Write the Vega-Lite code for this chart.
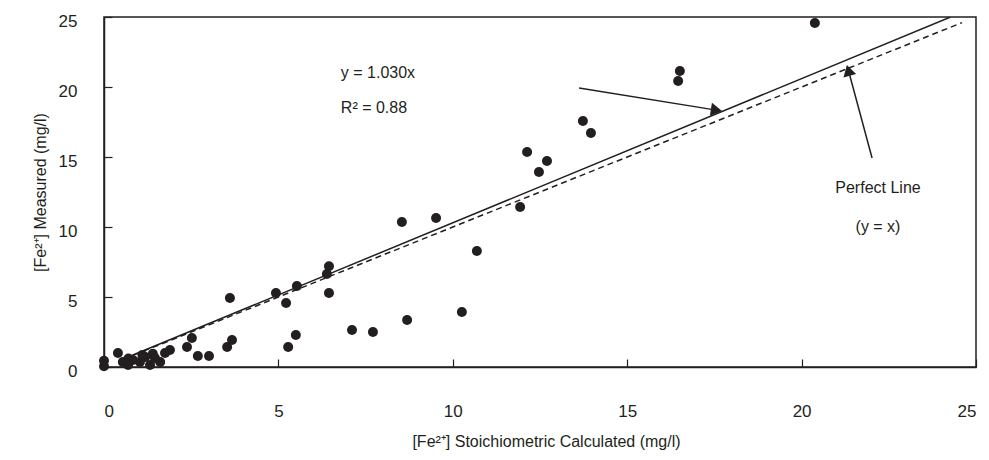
{
  "$schema": "https://vega.github.io/schema/vega-lite/v6.json",
  "width": 872,
  "height": 350,
  "autosize": {"type": "none"},
  "padding": {"left": 104, "top": 17, "right": 13, "bottom": 93},
  "background": "white",
  "config": {
    "view": {"stroke": "#231f20", "strokeWidth": 1.5},
    "font": "Liberation Sans",
    "axis": {
      "grid": false,
      "domainColor": "#231f20",
      "domainWidth": 1.5,
      "tickColor": "#231f20",
      "tickWidth": 1.2,
      "tickSize": -8,
      "labelFont": "Liberation Sans",
      "labelFontSize": 17,
      "labelColor": "#231f20",
      "titleFont": "Liberation Sans",
      "titleFontSize": 16,
      "titleFontWeight": "normal",
      "titleColor": "#231f20"
    }
  },
  "encoding": {
    "x": {
      "field": "x",
      "type": "quantitative",
      "scale": {"domain": [0, 25], "nice": false, "zero": false},
      "axis": {
        "title": "[Fe²⁺] Stoichiometric Calculated (mg/l)",
        "values": [0, 5, 10, 15, 20, 25],
        "labelPadding": 44,
        "titleX": 442,
        "titleY": 74,
        "titleAlign": "center",
        "titleBaseline": "middle"
      }
    },
    "y": {
      "field": "y",
      "type": "quantitative",
      "scale": {"domain": [0, 25], "nice": false, "zero": false},
      "axis": {
        "title": "[Fe²⁺] Measured (mg/l)",
        "values": [0, 5, 10, 15, 20, 25],
        "labelPadding": 35,
        "labelOffset": 4,
        "titleX": -64,
        "titleY": 175,
        "titleAlign": "center",
        "titleBaseline": "middle"
      }
    }
  },
  "layer": [
    {
      "data": {"values": [{"x": 0.6, "y": 0.6}, {"x": 24.6, "y": 24.6}]},
      "mark": {"type": "line", "color": "#231f20", "strokeWidth": 1.5, "strokeDash": [6, 4], "clip": true}
    },
    {
      "data": {"values": [{"x": 0.5, "y": 0.515}, {"x": 24.27, "y": 25}]},
      "mark": {"type": "line", "color": "#231f20", "strokeWidth": 1.5, "clip": true}
    },
    {
      "data": {"values": [
        {"x": 13.62, "y": 19.93, "x2": 17.6, "y2": 18.33},
        {"x": 22.02, "y": 14.93, "x2": 21.33, "y2": 21.3}
      ]},
      "mark": {"type": "rule", "color": "#231f20", "strokeWidth": 1.5},
      "encoding": {
        "x2": {"field": "x2"},
        "y2": {"field": "y2"}
      }
    },
    {
      "data": {"values": [{"x": 17.56, "y": 18.35}]},
      "mark": {"type": "point", "shape": "triangle-right", "filled": true, "color": "#231f20", "opacity": 1, "size": 170, "angle": 9}
    },
    {
      "data": {"values": [{"x": 21.34, "y": 21.19}]},
      "mark": {"type": "point", "shape": "triangle-up", "filled": true, "color": "#231f20", "opacity": 1, "size": 170, "angle": -15}
    },
    {
      "data": {"values": [
        {"x": 0, "y": 0.05}, {"x": 0, "y": 0.45}, {"x": 0.4, "y": 1.0}, {"x": 0.54, "y": 0.36},
        {"x": 0.69, "y": 0.14}, {"x": 0.7, "y": 0.6}, {"x": 0.83, "y": 0.5}, {"x": 1.03, "y": 0.36},
        {"x": 1.1, "y": 0.85}, {"x": 1.18, "y": 0.71}, {"x": 1.32, "y": 0.14}, {"x": 1.4, "y": 0.95},
        {"x": 1.46, "y": 0.64}, {"x": 1.61, "y": 0.36}, {"x": 1.75, "y": 1.0}, {"x": 1.89, "y": 1.21},
        {"x": 2.38, "y": 1.43}, {"x": 2.52, "y": 2.07}, {"x": 2.69, "y": 0.79}, {"x": 3.01, "y": 0.79},
        {"x": 3.53, "y": 1.43}, {"x": 3.67, "y": 1.93}, {"x": 3.61, "y": 4.93}, {"x": 4.93, "y": 5.29},
        {"x": 5.22, "y": 4.57}, {"x": 5.53, "y": 5.79}, {"x": 5.28, "y": 1.43}, {"x": 5.5, "y": 2.29},
        {"x": 6.45, "y": 7.2}, {"x": 6.39, "y": 6.64}, {"x": 6.45, "y": 5.29}, {"x": 7.11, "y": 2.64},
        {"x": 7.71, "y": 2.5}, {"x": 8.69, "y": 3.36}, {"x": 8.54, "y": 10.36}, {"x": 9.52, "y": 10.64},
        {"x": 10.69, "y": 8.29}, {"x": 10.26, "y": 3.93}, {"x": 11.93, "y": 11.43}, {"x": 12.13, "y": 15.36},
        {"x": 12.47, "y": 13.93}, {"x": 12.7, "y": 14.71}, {"x": 13.73, "y": 17.57}, {"x": 13.96, "y": 16.71},
        {"x": 16.46, "y": 20.43}, {"x": 16.51, "y": 21.14}, {"x": 20.38, "y": 24.57}
      ]},
      "mark": {"type": "circle", "color": "#231f20", "opacity": 1, "size": 100, "clip": false}
    },
    {
      "data": {"values": [
        {"x": 6.79, "y": 21.0, "label": "y = 1.030x"},
        {"x": 6.79, "y": 18.5, "label": "R² = 0.88"}
      ]},
      "mark": {"type": "text", "align": "left", "baseline": "middle", "fontSize": 16, "font": "Liberation Sans", "color": "#231f20"},
      "encoding": {"text": {"field": "label"}}
    },
    {
      "data": {"values": [
        {"x": 22.19, "y": 12.79, "label": "Perfect Line"},
        {"x": 22.19, "y": 10.0, "label": "(y = x)"}
      ]},
      "mark": {"type": "text", "align": "center", "baseline": "middle", "fontSize": 16, "font": "Liberation Sans", "color": "#231f20"},
      "encoding": {"text": {"field": "label"}}
    }
  ]
}
